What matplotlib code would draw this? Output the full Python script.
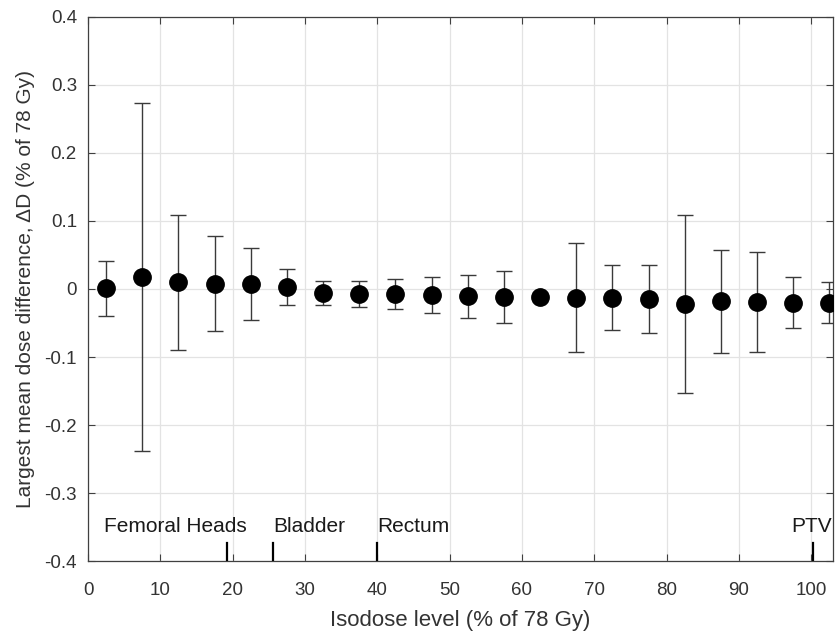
import matplotlib
matplotlib.use("Agg")
import matplotlib.pyplot as plt
import numpy as np

plt.rcParams['font.family'] = ['Liberation Sans', 'DejaVu Sans']

# Data
isodose = [2.5, 7.5, 12.5, 17.5, 22.5, 27.5, 32.5, 37.5, 42.5, 47.5, 52.5,
           57.5, 62.5, 67.5, 72.5, 77.5, 82.5, 87.5, 92.5, 97.5, 102.5]
mean_diff = [0.001, 0.018, 0.010, 0.008, 0.007, 0.003, -0.006, -0.007, -0.008, -0.009, -0.011,
             -0.012, -0.012, -0.013, -0.013, -0.015, -0.022, -0.018, -0.019, -0.020, -0.020]
err = [0.040, 0.256, 0.099, 0.070, 0.053, 0.027, 0.018, 0.019, 0.022, 0.026, 0.031,
       0.038, 0.003, 0.080, 0.048, 0.050, 0.131, 0.076, 0.073, 0.038, 0.030]

structures = ["Femoral Heads", "Bladder", "Rectum", "PTV"]
structure_levels = [19.2, 25.6, 40.0, 100.3]
label_x = [2.2, 25.6, 40.0, 100.0]
label_align = ["left", "left", "left", "center"]

xticks = [0, 10, 20, 30, 40, 50, 60, 70, 80, 90, 100]
yticks = [-0.4, -0.3, -0.2, -0.1, 0, 0.1, 0.2, 0.3, 0.4]
ytick_labels = ["-0.4", "-0.3", "-0.2", "-0.1", "0", "0.1", "0.2", "0.3", "0.4"]

fig = plt.figure(figsize=(8.35, 6.36), dpi=100)
ax = fig.add_axes([0.1054, 0.1179, 0.8922, 0.8554])

ax.errorbar(isodose, mean_diff, yerr=err, fmt='o', color='black', markersize=12.5,
            ecolor='#3a3a3a', elinewidth=1.0, capsize=6, capthick=1.0, zorder=3)

for lvl in structure_levels:
    ax.plot([lvl, lvl], [-0.4, -0.374], color='black', linewidth=1.6, zorder=4)
for name, tx, ha in zip(structures, label_x, label_align):
    ax.text(tx, -0.357, name, ha=ha, va='baseline', fontsize=15, color='#1a1a1a')

ax.set_xlim(0, 103)
ax.set_ylim(-0.4, 0.4)
ax.set_xticks(xticks)
ax.set_yticks(yticks)
ax.set_yticklabels(ytick_labels)
ax.grid(True, color='#e3e3e3', linewidth=0.9, zorder=0)
ax.set_axisbelow(True)
ax.tick_params(direction='in', top=True, right=True, length=5, width=0.8,
               color='#404040', labelsize=13.5, labelcolor='#333333')
ax.tick_params(axis='x', pad=15)
ax.tick_params(axis='y', pad=8)
for s in ax.spines.values():
    s.set_color('#404040')
    s.set_linewidth(0.9)

ax.set_xlabel("Isodose level (% of 78 Gy)", fontsize=16, color='#333333', labelpad=8)
ax.set_ylabel("Largest mean dose difference, ΔD (% of 78 Gy)", fontsize=15, color='#333333', labelpad=7)

fig.savefig("out.png", dpi=100)
